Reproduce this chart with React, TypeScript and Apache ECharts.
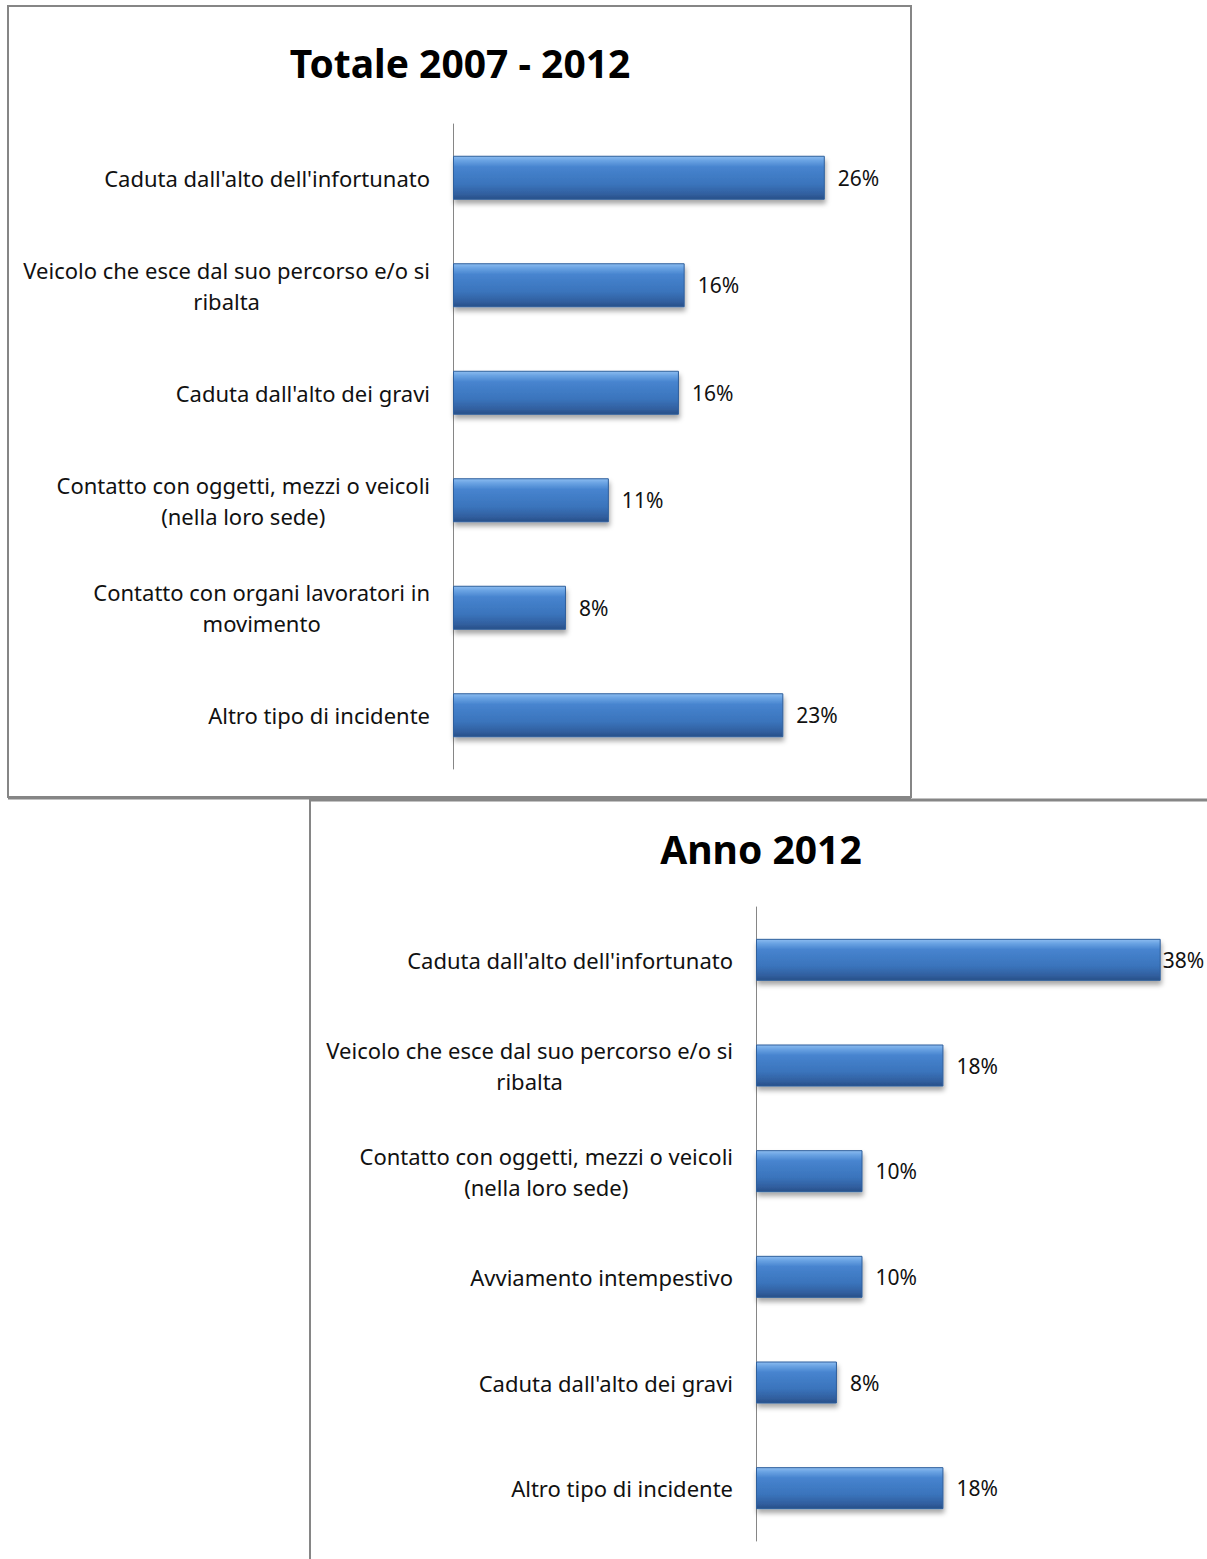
import React, { useEffect, useRef } from "react";
import * as echarts from "echarts";

const categoriesTotal = [
  "Caduta dall'alto dell'infortunato",
  "Veicolo che esce dal suo percorso e/o si\nribalta",
  "Caduta dall'alto dei gravi",
  "Contatto con oggetti, mezzi o veicoli\n(nella loro sede)",
  "Contatto con organi lavoratori in\nmovimento",
  "Altro tipo di incidente",
];
const valuesTotal = [26.0, 16.2, 15.8, 10.9, 7.9, 23.1];

const categories2012 = [
  "Caduta dall'alto dell'infortunato",
  "Veicolo che esce dal suo percorso e/o si\nribalta",
  "Contatto con oggetti, mezzi o veicoli\n(nella loro sede)",
  "Avviamento intempestivo",
  "Caduta dall'alto dei gravi",
  "Altro tipo di incidente",
];
const values2012 = [38.0, 17.6, 10.0, 10.0, 7.6, 17.6];

const titleTotal = "Totale 2007 - 2012";
const title2012 = "Anno 2012";

const FONT = "'Noto Sans', 'Open Sans', sans-serif";
const GREY = "#868686";

const barColor = new echarts.graphic.LinearGradient(0, 0, 0, 1, [
  { offset: 0, color: "#8cbcf0" },
  { offset: 0.1, color: "#6aa3e3" },
  { offset: 0.25, color: "#4784cf" },
  { offset: 0.65, color: "#3a74bc" },
  { offset: 0.88, color: "#315f9f" },
  { offset: 1, color: "#284f88" },
]);

function catAxis(gridIndex: number, data: string[]) {
  return {
    type: "category",
    gridIndex,
    data,
    inverse: true,
    axisLine: { show: true, lineStyle: { color: GREY, width: 1 } },
    axisTick: { show: false },
    axisLabel: {
      margin: 23,
      align: "right",
      formatter: (v: string) =>
        v
          .split("\n")
          .map((l) => "{c|" + l + "}")
          .join("\n"),
      rich: {
        c: {
          fontFamily: FONT,
          fontSize: 22,
          color: "#111",
          align: "center",
          lineHeight: 31,
        },
      },
    },
  };
}

function barSeries(
  xAxisIndex: number,
  values: number[],
  barWidth: number,
  tightIndex: number
) {
  return {
    type: "bar",
    xAxisIndex,
    yAxisIndex: xAxisIndex,
    barWidth,
    data: values.map((v, i) =>
      i === tightIndex ? { value: v, label: { distance: 2 } } : v
    ),
    itemStyle: {
      color: barColor,
      borderColor: "#2f5f9c",
      borderWidth: 1,
      shadowColor: "rgba(0,0,0,0.35)",
      shadowBlur: 5,
      shadowOffsetX: 1,
      shadowOffsetY: 4,
    },
    label: {
      show: true,
      position: "right",
      distance: 13,
      fontFamily: FONT,
      fontSize: 21,
      color: "#111",
      formatter: (p: any) => Math.round(p.value) + "%",
    },
  };
}

export default function App() {
  const ref = useRef<HTMLDivElement>(null);
  useEffect(() => {
    if (!ref.current) return;
    const chart = echarts.init(ref.current, undefined, { renderer: "svg" });
    chart.setOption({
      animation: false,
      backgroundColor: "#ffffff",
      grid: [
        { left: 453, top: 124, width: 429, height: 645 },
        { left: 756, top: 907, width: 426, height: 634 },
      ],
      xAxis: [
        { type: "value", gridIndex: 0, min: 0, max: 30, show: false, splitLine: { show: false } },
        { type: "value", gridIndex: 1, min: 0, max: 40, show: false, splitLine: { show: false } },
      ],
      yAxis: [catAxis(0, categoriesTotal), catAxis(1, categories2012)],
      series: [
        barSeries(0, valuesTotal, 44, -1),
        barSeries(1, values2012, 42, 0),
      ],
      graphic: [
        {
          type: "rect",
          shape: { x: 8, y: 6, width: 903, height: 791 },
          style: { fill: "none", stroke: GREY, lineWidth: 2 },
          z: 10,
        },
        {
          type: "line",
          shape: { x1: 8, y1: 798, x2: 911, y2: 798 },
          style: { stroke: GREY, lineWidth: 3 },
          z: 10,
        },
        {
          type: "rect",
          shape: { x: 310, y: 800, width: 920, height: 800 },
          style: { fill: "none", stroke: GREY, lineWidth: 2 },
          z: 10,
        },
        {
          type: "line",
          shape: { x1: 310, y1: 800, x2: 1207, y2: 800 },
          style: { stroke: GREY, lineWidth: 3 },
          z: 10,
        },
        {
          type: "text",
          x: 460,
          y: 62,
          style: {
            text: titleTotal,
            fontFamily: FONT,
            fontWeight: "bold",
            fontSize: 39,
            fill: "#000",
            align: "center",
            verticalAlign: "middle",
          },
        },
        {
          type: "text",
          x: 761,
          y: 848,
          style: {
            text: title2012,
            fontFamily: FONT,
            fontWeight: "bold",
            fontSize: 39,
            fill: "#000",
            align: "center",
            verticalAlign: "middle",
          },
        },
      ],
    });
    return () => chart.dispose();
  }, []);
  return (
    <div
      ref={ref}
      style={{ position: "absolute", left: 0, top: 0, width: 1207, height: 1559 }}
    />
  );
}
